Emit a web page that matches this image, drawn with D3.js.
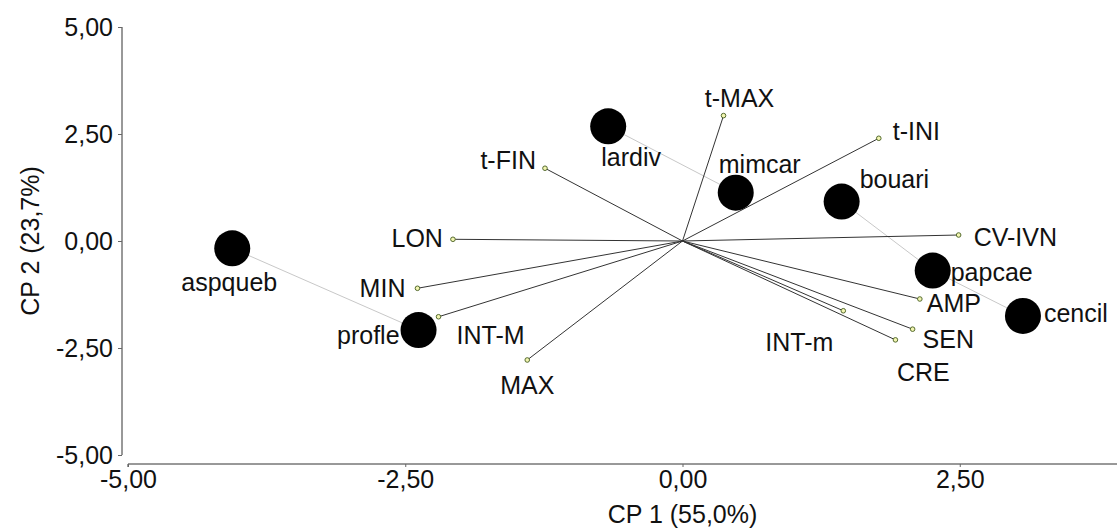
<!DOCTYPE html>
<html>
<head>
<meta charset="utf-8">
<script src="https://cdn.jsdelivr.net/npm/d3@7"></script>
<style>
  html, body { margin: 0; padding: 0; background: #fff; }
  svg { display: block; }
  text { font-family: "Liberation Sans", Arial, sans-serif; fill: #111; }
</style>
</head>
<body>
<svg id="chart" width="1119" height="532"></svg>
<script>
// ---- Data ----
const sites  = ["aspqueb", "profle", "lardiv", "mimcar", "bouari", "papcae", "cencil"];
const siteX  = [-4.06, -2.38, -0.67, 0.48, 1.435, 2.256, 3.07];
const siteY  = [-0.17, -2.08, 2.68, 1.13, 0.92, -0.69, -1.75];

const vars   = ["LON", "MIN", "INT-M", "MAX", "t-FIN", "t-MAX", "t-INI", "CV-IVN", "AMP", "INT-m", "SEN", "CRE"];
const varX   = [-2.07, -2.39, -2.20, -1.40, -1.24, 0.37, 1.77, 2.49, 2.14, 1.45, 2.075, 1.92];
const varY   = [0.04, -1.105, -1.77, -2.78, 1.70, 2.93, 2.40, 0.14, -1.355, -1.63, -2.06, -2.31];

const links  = [["aspqueb", "profle"], ["lardiv", "mimcar"], ["bouari", "papcae"], ["papcae", "cencil"]];

const xTicks = [-5, -2.5, 0, 2.5];
const yTicks = [-5, -2.5, 0, 2.5, 5];
const xTitle = "CP 1 (55,0%)";
const yTitle = "CP 2 (23,7%)";

// ---- Label layout (pixel offsets, anchor) ----
const siteLabelPos = {
  aspqueb: [-3, 34, "middle"], profle: [-19, 5, "end"], lardiv: [23, 31, "middle"],
  mimcar: [24, -29, "middle"], bouari: [18, -23, "start"], papcae: [18, 1, "start"],
  cencil: [21, -3, "start"]
};
const varLabelPos = {
  "LON": [-10, -1, "end"], "MIN": [-12, 0, "end"], "INT-M": [18, 18, "start"],
  "MAX": [0, 25, "middle"], "t-FIN": [-9, -8, "end"], "t-MAX": [16, -18, "middle"],
  "t-INI": [14, -7, "start"], "CV-IVN": [15, 2, "start"], "AMP": [7, 4, "start"],
  "INT-m": [-10, 31, "end"], "SEN": [10, 10, "start"], "CRE": [28, 32, "middle"]
};

// ---- Scales ----
const x = d3.scaleLinear().domain([-5, 0]).range([128, 682.5]);
const y = d3.scaleLinear().domain([-5, 5]).range([455, 27]);
const fmt = v => d3.format(".2f")(v).replace(".", ",").replace("\u2212", "-");

const svg = d3.select("#chart");
const FS = 25;

// Axes
const yAxis = svg.append("g").attr("transform", "translate(122,0)")
  .call(d3.axisLeft(y).tickValues(yTicks).tickFormat(fmt).tickSize(4).tickPadding(5));
const xAxis = svg.append("g").attr("transform", "translate(0,464)")
  .call(d3.axisBottom(x).tickValues(xTicks).tickFormat(fmt).tickSize(3).tickPadding(3));
xAxis.select(".domain").attr("d", `M${x(-5)},3V0H1117`);
yAxis.select(".domain").attr("d", `M0,${y(5)}V${y(-5)}`);
[xAxis, yAxis].forEach(a => {
  a.selectAll(".domain").attr("stroke", "#333").attr("fill", "none");
  a.selectAll(".tick line").attr("stroke", "#666");
  a.selectAll(".tick text").attr("font-size", FS)
    .attr("font-family", "Liberation Sans, Arial, sans-serif").attr("fill", "#111");
});

// Axis titles
svg.append("text").attr("x", x(0)).attr("y", 523).attr("text-anchor", "middle")
  .attr("font-size", FS).text(xTitle);
svg.append("text").attr("transform", `translate(39,${y(0)}) rotate(-90)`).attr("text-anchor", "middle")
  .attr("font-size", FS).text(yTitle);

// Links between sites
const idx = name => sites.indexOf(name);
svg.append("g").selectAll("line").data(links).join("line")
  .attr("x1", d => x(siteX[idx(d[0])])).attr("y1", d => y(siteY[idx(d[0])]))
  .attr("x2", d => x(siteX[idx(d[1])])).attr("y2", d => y(siteY[idx(d[1])]))
  .attr("stroke", "#c8c8c8").attr("stroke-width", 1);

// Vectors
const vg = svg.append("g");
vg.selectAll("line").data(vars).join("line")
  .attr("x1", x(0)).attr("y1", y(0))
  .attr("x2", (d, i) => x(varX[i])).attr("y2", (d, i) => y(varY[i]))
  .attr("stroke", "#333").attr("stroke-width", 1);
vg.selectAll("circle").data(vars).join("circle")
  .attr("cx", (d, i) => x(varX[i])).attr("cy", (d, i) => y(varY[i])).attr("r", 2.3)
  .attr("fill", "#f2f5b0").attr("stroke", "#556b2f").attr("stroke-width", 1);
vg.selectAll("text").data(vars).join("text")
  .attr("x", (d, i) => x(varX[i]) + varLabelPos[d][0])
  .attr("y", (d, i) => y(varY[i]) + varLabelPos[d][1])
  .attr("text-anchor", d => varLabelPos[d][2])
  .attr("dominant-baseline", "central")
  .attr("font-size", FS).text(d => d);

// Sites
const sg = svg.append("g");
sg.selectAll("circle").data(sites).join("circle")
  .attr("cx", (d, i) => x(siteX[i])).attr("cy", (d, i) => y(siteY[i])).attr("r", 18)
  .attr("fill", "#000");
sg.selectAll("text").data(sites).join("text")
  .attr("x", (d, i) => x(siteX[i]) + siteLabelPos[d][0])
  .attr("y", (d, i) => y(siteY[i]) + siteLabelPos[d][1])
  .attr("text-anchor", d => siteLabelPos[d][2])
  .attr("dominant-baseline", "central")
  .attr("font-size", FS).text(d => d);
</script>
</body>
</html>
